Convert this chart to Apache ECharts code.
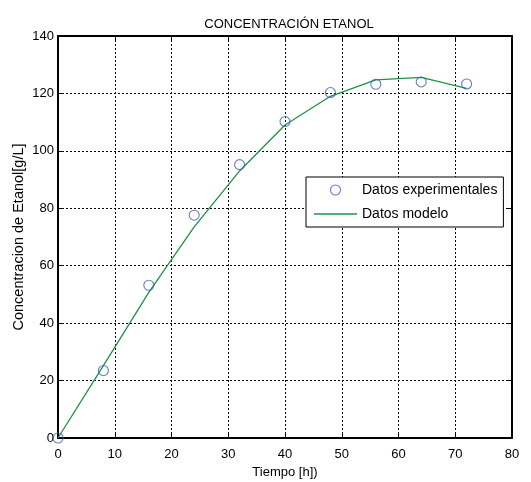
<!DOCTYPE html>
<html>
<head>
<meta charset="utf-8">
<script src="https://cdn.jsdelivr.net/npm/echarts@6/dist/echarts.min.js"></script>
<style>
html,body{margin:0;padding:0;background:#fff;}
#c{width:531px;height:482px;}
</style>
</head>
<body>
<div id="c"></div>
<script>
const timeHours = [0, 8, 16, 24, 32, 40, 48, 56, 64, 72];
const expValues = [0, 23.5, 53.2, 77.6, 95.2, 110.2, 120.3, 123.2, 124.0, 123.3];
const modelValues = [0, 25.2, 50.7, 73.5, 93.0, 109.0, 119.0, 124.7, 125.6, 121.8];
const xTicks = [0, 10, 20, 30, 40, 50, 60, 70, 80];
const yTicks = [0, 20, 40, 60, 80, 100, 120, 140];

const FONT = "'Liberation Sans', Arial, sans-serif";
const BLUE = '#3d5fb8';
const GREEN = '#1f9245';
const chart = echarts.init(document.getElementById('c'), null, {renderer: 'canvas'});

const boxAxisCommon = {
  axisLine: {show: true, onZero: false, lineStyle: {color: '#000', width: 2}},
  axisTick: {show: true, inside: true, length: 5, lineStyle: {color: '#000', width: 1}},
  axisLabel: {show: false},
  splitLine: {show: false}
};

chart.setOption({
  animation: false,
  backgroundColor: '#fff',
  textStyle: {fontFamily: FONT},
  title: {
    text: 'CONCENTRACIÓN ETANOL',
    left: 284, top: 13, textAlign: 'center',
    textStyle: {fontFamily: FONT, fontSize: 13, fontWeight: 'normal', color: '#000'}
  },
  grid: {left: 58, right: 19, top: 36, bottom: 44, containLabel: false, outerBoundsMode: 'none'},
  legend: {
    left: 306, top: 177,
    orient: 'vertical',
    backgroundColor: '#fff',
    borderColor: '#000', borderWidth: 1,
    padding: [6, 6, 6, 8],
    itemWidth: 43, itemHeight: 10, itemGap: 10,
    textStyle: {fontFamily: FONT, fontSize: 14, color: '#000'},
    data: [
      {name: 'Datos experimentales', icon: 'circle',
        itemStyle: {color: 'rgba(255,255,255,0)', borderColor: BLUE, borderWidth: 1.1}},
      {name: 'Datos modelo', icon: 'path://M0,0 L43,0 L43,1.3 L0,1.3 Z',
        itemStyle: {color: GREEN}}
    ]
  },
  xAxis: [
    {
      type: 'value', min: 0, max: 80, interval: 10, position: 'bottom',
      name: 'Tiempo [h])', nameLocation: 'middle', nameGap: 28, nameMoveOverlap: false,
      nameTextStyle: {fontFamily: FONT, fontSize: 13, color: '#000'},
      axisLine: {show: true, onZero: false, lineStyle: {color: '#000', width: 2}},
      axisTick: {show: true, inside: true, length: 5, lineStyle: {color: '#000'}},
      axisLabel: {fontFamily: FONT, fontSize: 13, color: '#000', margin: 10,
        formatter: v => xTicks.includes(v) ? String(v) : ''},
      splitLine: {show: true, lineStyle: {color: '#000', type: [2, 2], width: 1}}
    },
    Object.assign({type: 'value', min: 0, max: 80, interval: 10, position: 'top'}, boxAxisCommon)
  ],
  yAxis: [
    {
      type: 'value', min: 0, max: 140, interval: 20, position: 'left',
      name: 'Concentracion de Etanol[g/L]', nameLocation: 'middle', nameGap: 32, nameMoveOverlap: false,
      nameTextStyle: {fontFamily: FONT, fontSize: 14.5, color: '#000'},
      axisLine: {show: true, onZero: false, lineStyle: {color: '#000', width: 2}},
      axisTick: {show: true, inside: true, length: 5, lineStyle: {color: '#000'}},
      axisLabel: {fontFamily: FONT, fontSize: 13, color: '#000', margin: 4,
        formatter: v => yTicks.includes(v) ? String(v) : ''},
      splitLine: {show: true, lineStyle: {color: '#000', type: [2, 2], width: 1}}
    },
    Object.assign({type: 'value', min: 0, max: 140, interval: 20, position: 'right'}, boxAxisCommon)
  ],
  series: [
    {
      name: 'Datos modelo', type: 'line', z: 3,
      data: timeHours.map((t, i) => [t, modelValues[i]]),
      symbol: 'none', smooth: false,
      lineStyle: {color: GREEN, width: 1.3},
      itemStyle: {color: GREEN}
    },
    {
      name: 'Datos experimentales', type: 'scatter', z: 4,
      data: timeHours.map((t, i) => [t, expValues[i]]),
      symbol: 'circle', symbolSize: 10,
      itemStyle: {color: 'rgba(255,255,255,0)', borderColor: BLUE, borderWidth: 1.1}
    }
  ]
});
</script>
</body>
</html>
